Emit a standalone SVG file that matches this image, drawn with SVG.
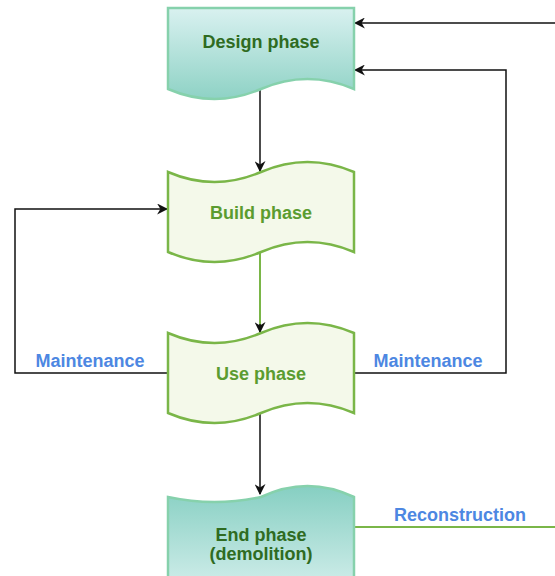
<svg xmlns="http://www.w3.org/2000/svg" width="555" height="576" viewBox="0 0 555 576">
<defs>
<linearGradient id="gDesign" x1="0" y1="0" x2="0" y2="1">
<stop offset="0" stop-color="#d9f1f0"/>
<stop offset="1" stop-color="#8ed2c5"/>
</linearGradient>
<linearGradient id="gEnd" x1="0" y1="0" x2="0" y2="1">
<stop offset="0" stop-color="#86cfc2"/>
<stop offset="1" stop-color="#d2eeeb"/>
</linearGradient>
<marker id="arr" viewBox="0 0 10 10" refX="9" refY="5" markerWidth="11" markerHeight="11" markerUnits="userSpaceOnUse" orient="auto">
<path d="M0,0 L10,5 L0,10 L3,5 Z" fill="#111"/>
</marker>
</defs>
<style>
.teal{stroke:#86d1ac;stroke-width:2.5}
.tape{fill:#f4f9ea;stroke:#7ab648;stroke-width:2.5}
.t{font-family:"Liberation Sans",Arial,sans-serif;font-weight:bold;font-size:18px;text-anchor:middle}
.lbl{fill:#4d87e2}
.e{fill:none;stroke:#111;stroke-width:1.5}
.eg{fill:none;stroke:#7ab648;stroke-width:2}
</style>
<g id="connectors">
<path class="e" d="M260,89 L260,171" marker-end="url(#arr)"/>
<path class="eg" d="M260,253 L260,332"/>
<path class="e" d="M260,324 L260,332" marker-end="url(#arr)"/>
<path class="e" d="M260,414 L260,494" marker-end="url(#arr)"/>
<path class="e" d="M168,373 L15,373 L15,209 L167,209" marker-end="url(#arr)"/>
<path class="e" d="M354,373 L506,373 L506,70 L355,70" marker-end="url(#arr)"/>
<path class="e" d="M555,23 L355,23" marker-end="url(#arr)"/>
<path class="eg" d="M354,527 L555,527"/>
<text class="t lbl" x="90" y="367">Maintenance</text>
<text class="t lbl" x="428" y="367">Maintenance</text>
<text class="t lbl" x="460" y="521">Reconstruction</text>
</g>
<g id="design">
<path class="teal" fill="url(#gDesign)" d="M168,8 L354,8 L354,89 Q307.5,69 261,89 Q214.5,109 168,89 Z"/>
<text class="t" x="261" y="48" fill="#2f6b22">Design phase</text>
</g>
<g id="build">
<path class="tape" d="M168,172 Q214.5,192 261,172 Q307.5,152 354,172 L354,252 Q307.5,232 261,252 Q214.5,272 168,252 Z"/>
<text class="t" x="261" y="219" fill="#5b9c30">Build phase</text>
</g>
<g id="use">
<path class="tape" d="M168,333 Q214.5,353 261,333 Q307.5,313 354,333 L354,413 Q307.5,393 261,413 Q214.5,433 168,413 Z"/>
<text class="t" x="261" y="380" fill="#5b9c30">Use phase</text>
</g>
<g id="end">
<path class="teal" fill="url(#gEnd)" d="M168,497 Q214.5,507 261,497 Q307.5,475 354,497 L354,590 L168,590 Z"/>
<text class="t" x="261" y="541" fill="#2f6b22">End phase</text>
<text class="t" x="261" y="560" fill="#2f6b22">(demolition)</text>
</g>
</svg>
